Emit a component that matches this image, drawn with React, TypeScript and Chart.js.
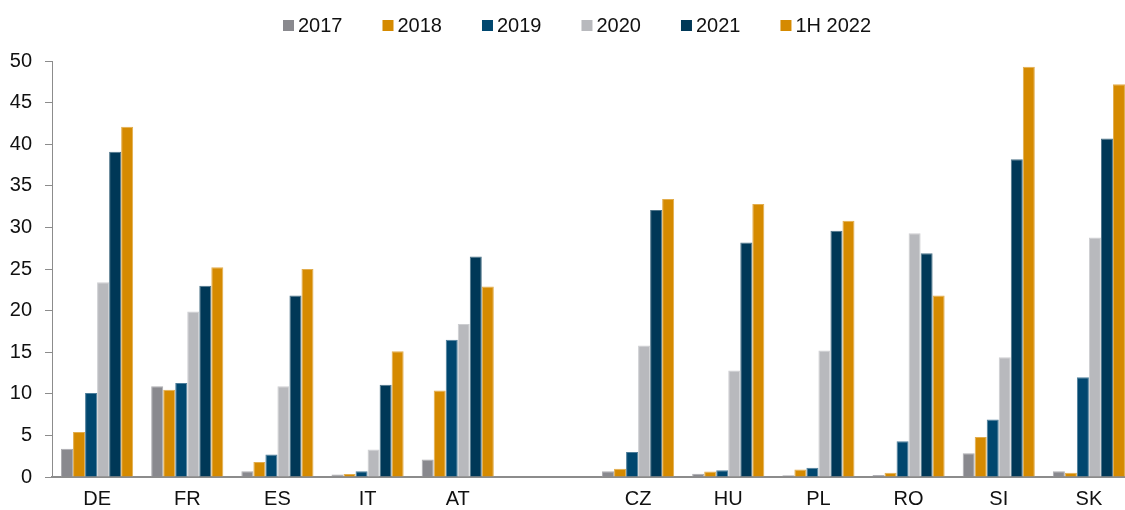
import React, { useEffect, useRef } from 'react';
import { Chart, registerables } from 'chart.js';

Chart.register(...registerables);

const categories = ['DE', 'FR', 'ES', 'IT', 'AT', '', 'CZ', 'HU', 'PL', 'RO', 'SI', 'SK'];
const seriesLabels = ['2017', '2018', '2019', '2020', '2021', '1H 2022'];
const values2017 = [3.4, 10.9, 0.7, 0.3, 2.1, null, 0.7, 0.4, 0.2, 0.25, 2.85, 0.7];
const values2018 = [5.4, 10.5, 1.8, 0.35, 10.4, null, 1.0, 0.65, 0.9, 0.5, 4.8, 0.5];
const values2019 = [10.1, 11.3, 2.7, 0.7, 16.5, null, 3.0, 0.8, 1.1, 4.3, 6.9, 12.0];
const values2020 = [23.4, 19.9, 10.9, 3.3, 18.4, null, 15.8, 12.8, 15.2, 29.3, 14.4, 28.8];
const values2021 = [39.1, 23.0, 21.8, 11.1, 26.5, null, 32.1, 28.2, 29.6, 26.9, 38.2, 40.7];
const values1H2022 = [42.1, 25.2, 25.0, 15.1, 22.9, null, 33.4, 32.8, 30.8, 21.8, 49.3, 47.2];
const seriesColors = ['#89898e', '#d58a00', '#00476f', '#b8b9bd', '#003857', '#d58a00'];
const yMin = 0;
const yMax = 50;
const yStep = 5;

const FONT_FAMILY = '"Liberation Sans", Arial, Helvetica, sans-serif';
const TEXT_COLOR = '#111111';
const AXIS_COLOR = '#8c8c8c';

function tint(hex: string, amount: number): string {
  const n = parseInt(hex.slice(1), 16);
  const r = (n >> 16) & 255;
  const g = (n >> 8) & 255;
  const b = n & 255;
  const mix = (c: number) => Math.round(c + (255 - c) * amount);
  return `rgb(${mix(r)},${mix(g)},${mix(b)})`;
}

const legendPlugin = {
  id: 'topLegend',
  afterDraw(chart: any) {
    const ctx = chart.ctx;
    ctx.save();
    ctx.font = `20px ${FONT_FAMILY}`;
    ctx.textBaseline = 'middle';
    ctx.textAlign = 'left';
    let x = 283;
    const cy = 25;
    chart.data.datasets.forEach((ds: any) => {
      ctx.fillStyle = ds.backgroundColor;
      ctx.fillRect(x, cy - 5, 11, 11);
      ctx.fillStyle = TEXT_COLOR;
      ctx.fillText(ds.label, x + 15, cy + 1);
      x += 15 + ctx.measureText(ds.label).width + 40;
    });
    ctx.restore();
  },
};

export default function App() {
  const canvasRef = useRef<HTMLCanvasElement | null>(null);

  useEffect(() => {
    if (!canvasRef.current) return;
    const allValues = [values2017, values2018, values2019, values2020, values2021, values1H2022];
    const chart = new Chart(canvasRef.current, {
      type: 'bar',
      data: {
        labels: categories,
        datasets: seriesLabels.map((label, i) => ({
          label,
          data: allValues[i],
          backgroundColor: seriesColors[i],
          borderColor: tint(seriesColors[i], 0.3),
          borderWidth: 1,
          categoryPercentage: 0.8,
          barPercentage: 1.0,
        })),
      },
      options: {
        responsive: false,
        animation: false,
        layout: { padding: { left: 0, right: 0, top: 61, bottom: 0 } },
        plugins: {
          legend: { display: false },
          tooltip: { enabled: false },
        },
        scales: {
          x: {
            grid: { display: false, drawTicks: false },
            border: { display: true, color: AXIS_COLOR, width: 2 },
            ticks: {
              font: { family: FONT_FAMILY, size: 20 },
              color: TEXT_COLOR,
              padding: 10,
              autoSkip: false,
              maxRotation: 0,
            },
            afterFit: (s: any) => {
              s.height = 33;
            },
          },
          y: {
            min: yMin,
            max: yMax,
            grid: {
              display: true,
              drawOnChartArea: false,
              drawTicks: true,
              tickLength: 7,
              color: AXIS_COLOR,
            },
            border: { display: true, color: AXIS_COLOR, width: 1 },
            ticks: {
              stepSize: yStep,
              font: { family: FONT_FAMILY, size: 20 },
              color: TEXT_COLOR,
              padding: 13,
            },
            afterFit: (s: any) => {
              s.width = 52;
            },
          },
        },
      },
      plugins: [legendPlugin],
    } as any);
    return () => chart.destroy();
  }, []);

  return (
    <div
      style={{
        position: 'fixed',
        left: 0,
        top: 0,
        width: 1125,
        height: 510,
        overflow: 'hidden',
        background: '#ffffff',
      }}
    >
      <canvas ref={canvasRef} width={1134} height={510} style={{ display: 'block' }} />
    </div>
  );
}
